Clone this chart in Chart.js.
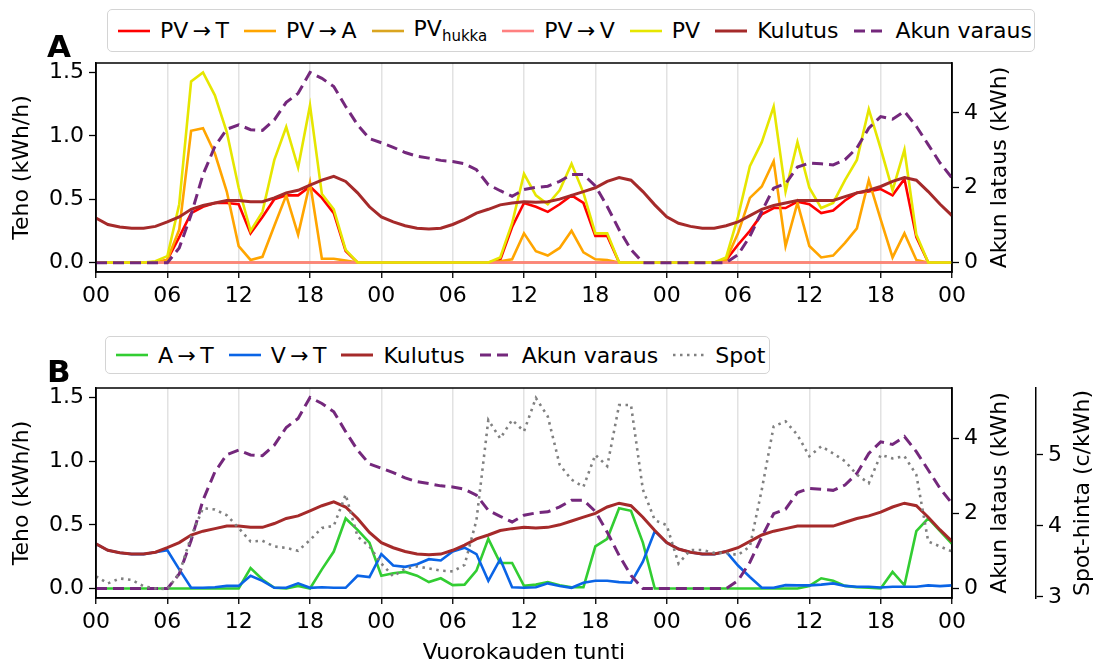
<!DOCTYPE html>
<html>
<head>
<meta charset="utf-8">
<script src="https://cdn.jsdelivr.net/npm/chart.js@4.4.1/dist/chart.umd.min.js"></script>
<style>
  body { margin: 0; background: #fff; font-family: 'DejaVu Sans', sans-serif; }
  #wrap { position: relative; width: 1103px; height: 666px; overflow: hidden; }
  canvas { position: absolute; left: 0; }
  .legend { position: absolute; display: flex; align-items: center; box-sizing: border-box;
            border: 1px solid #d4d4d4; border-radius: 5px; background: #fff;
            font-size: 22px; padding: 0 0 0 10px; white-space: nowrap; color: #000; }
  .item { display: flex; align-items: center; margin-right: 15px; }
  .item svg { margin-right: 10px; }
  .item sub { font-size: 15px; vertical-align: -5px; }
  .panel { position: absolute; left: 47px; font-weight: bold; font-size: 31px; line-height: 31px; }
</style>
</head>
<body>
<div id="wrap">
  <canvas id="chartA" width="1103" height="330" style="top:0"></canvas>
  <canvas id="chartB" width="1103" height="336" style="top:330px"></canvas>
  <div class="panel" style="top:31px">A</div>
  <div class="panel" style="top:356px">B</div>
  <div class="legend" id="legendA" style="left:107px; top:9px; width:928px; height:43px"></div>
  <div class="legend" id="legendB" style="left:105px; top:336px; width:665px; height:38px"></div>
</div>
<script>
// tunnit 0..72 (kolme vuorokautta)
const hours = Array.from({ length: 73 }, (_, i) => i);
const xTickValues = [0, 6, 12, 18, 24, 30, 36, 42, 48, 54, 60, 66, 72];
const xTickLabels = ['00', '06', '12', '18', '00', '06', '12', '18', '00', '06', '12', '18', '00'];

// A-paneeli (kWh/h)
const pvT = [
  0, 0, 0, 0, 0, 0, 0.02, 0.20, 0.39, 0.44, 0.47, 0.47,
  0.46, 0.23, 0.36, 0.50, 0.53, 0.53, 0.60, 0.51, 0.39, 0.09, 0, 0,
  0, 0, 0, 0, 0, 0, 0, 0, 0, 0, 0.02, 0.28,
  0.47, 0.44, 0.40, 0.46, 0.53, 0.47, 0.21, 0.21, 0, 0, 0, 0,
  0, 0, 0, 0, 0, 0.02, 0.14, 0.25, 0.38, 0.43, 0.43, 0.48,
  0.46, 0.39, 0.41, 0.49, 0.55, 0.56, 0.58, 0.53, 0.66, 0.20, 0, 0,
  0];
const pvA = [
  0, 0, 0, 0, 0, 0, 0.02, 0.26, 1.04, 1.06, 0.86, 0.56,
  0.13, 0.02, 0.045, 0.29, 0.53, 0.22, 0.63, 0.03, 0.03, 0.015, 0, 0,
  0, 0, 0, 0, 0, 0, 0, 0, 0, 0, 0.01, 0.025,
  0.23, 0.09, 0.055, 0.115, 0.25, 0.08, 0.025, 0.02, 0, 0, 0, 0,
  0, 0, 0, 0, 0, 0.02, 0.23, 0.51, 0.60, 0.80, 0.13, 0.47,
  0.13, 0.04, 0.055, 0.155, 0.27, 0.65, 0.34, 0.04, 0.23, 0.02, 0, 0,
  0];
const pvHukka = [
  0, 0, 0, 0, 0, 0, 0, 0, 0, 0, 0, 0,
  0, 0, 0, 0, 0, 0, 0, 0, 0, 0, 0, 0,
  0, 0, 0, 0, 0, 0, 0, 0, 0, 0, 0, 0,
  0, 0, 0, 0, 0, 0, 0, 0, 0, 0, 0, 0,
  0, 0, 0, 0, 0, 0, 0, 0, 0, 0, 0, 0,
  0, 0, 0, 0, 0, 0, 0, 0, 0, 0, 0, 0,
  0];
const pvV = [
  0, 0, 0, 0, 0, 0, 0, 0, 0, 0, 0, 0,
  0, 0, 0, 0, 0, 0, 0, 0, 0, 0, 0, 0,
  0, 0, 0, 0, 0, 0, 0, 0, 0, 0, 0, 0,
  0, 0, 0, 0, 0, 0, 0, 0, 0, 0, 0, 0,
  0, 0, 0, 0, 0, 0, 0, 0, 0, 0, 0, 0,
  0, 0, 0, 0, 0, 0, 0, 0, 0, 0, 0, 0,
  0];
const pv = [
  0, 0, 0, 0, 0, 0.01, 0.05, 0.46, 1.43, 1.50, 1.32, 1.03,
  0.59, 0.25, 0.40, 0.81, 1.07, 0.75, 1.24, 0.54, 0.42, 0.10, 0, 0,
  0, 0, 0, 0, 0, 0, 0, 0, 0, 0, 0.04, 0.31,
  0.70, 0.53, 0.46, 0.57, 0.78, 0.55, 0.23, 0.23, 0, 0, 0, 0,
  0, 0, 0, 0, 0, 0.04, 0.36, 0.76, 0.95, 1.23, 0.56, 0.95,
  0.59, 0.43, 0.47, 0.65, 0.81, 1.21, 0.90, 0.57, 0.89, 0.22, 0, 0,
  0];
const kulutus = [
  0.35, 0.30, 0.28, 0.27, 0.27, 0.285, 0.32, 0.36, 0.42, 0.45, 0.47, 0.49,
  0.49, 0.48, 0.48, 0.51, 0.55, 0.57, 0.61, 0.65, 0.68, 0.64, 0.55, 0.44,
  0.36, 0.32, 0.29, 0.27, 0.265, 0.27, 0.30, 0.34, 0.39, 0.42, 0.455, 0.47,
  0.48, 0.475, 0.48, 0.50, 0.53, 0.56, 0.59, 0.64, 0.67, 0.65, 0.56, 0.455,
  0.36, 0.31, 0.285, 0.27, 0.27, 0.29, 0.32, 0.37, 0.42, 0.45, 0.47, 0.49,
  0.49, 0.49, 0.49, 0.52, 0.55, 0.57, 0.60, 0.64, 0.67, 0.65, 0.56, 0.46,
  0.37];
// akun varaus (kWh)
const akku = [
  0, 0, 0, 0, 0, 0, 0, 0.39, 1.28, 2.35, 3.10, 3.56,
  3.68, 3.55, 3.53, 3.81, 4.28, 4.52, 5.08, 4.92, 4.70, 4.17, 3.68, 3.31,
  3.20, 3.08, 2.94, 2.84, 2.79, 2.73, 2.70, 2.64, 2.48, 2.08, 1.92, 1.77,
  1.95, 2.01, 2.04, 2.17, 2.35, 2.35, 2.05, 1.50, 0.88, 0.35, 0, 0,
  0, 0, 0, 0, 0, 0, 0.21, 0.70, 1.37, 1.99, 2.11, 2.55,
  2.66, 2.64, 2.61, 2.75, 3.06, 3.59, 3.90, 3.83, 4.04, 3.64, 3.15, 2.66,
  2.26];

// B-paneeli
const aT = [
  0, 0, 0, 0, 0, 0, 0, 0, 0, 0, 0, 0,
  0, 0.16, 0.07, 0.005, 0, 0.02, 0, 0.15, 0.29, 0.55, 0.46, 0.36,
  0.10, 0.12, 0.13, 0.10, 0.05, 0.08, 0.026, 0.03, 0.14, 0.39, 0.20, 0.20,
  0.02, 0.03, 0.05, 0.025, 0.01, 0.01, 0.33, 0.39, 0.63, 0.61, 0.36, 0,
  0, 0, 0, 0, 0, 0, 0, 0, 0, 0, 0, 0,
  0.02, 0.08, 0.06, 0.02, 0.01, 0.005, 0, 0.13, 0.025, 0.45, 0.55, 0.45,
  0.35];
const vT = [
  0.35, 0.30, 0.28, 0.27, 0.27, 0.285, 0.30, 0.15, 0.005, 0.005, 0.01, 0.02,
  0.02, 0.10, 0.06, 0.005, 0.005, 0.04, 0.005, 0.01, 0.005, 0.005, 0.10, 0.09,
  0.27, 0.18, 0.17, 0.19, 0.23, 0.22, 0.29, 0.32, 0.27, 0.06, 0.23, 0.01,
  0.005, 0.01, 0.04, 0.02, 0.005, 0.045, 0.06, 0.06, 0.05, 0.045, 0.21, 0.45,
  0.36, 0.31, 0.285, 0.27, 0.27, 0.29, 0.18, 0.09, 0.005, 0.005, 0.026, 0.024,
  0.024, 0.03, 0.04, 0.02, 0.013, 0.013, 0.008, 0.013, 0.013, 0.013, 0.024, 0.018,
  0.024];
// spot-hinta (c/kWh)
const spot = [
  3.29, 3.19, 3.26, 3.24, 3.15, 3.12, 3.11, 3.33, 3.85, 4.25, 4.23, 4.15,
  3.97, 3.78, 3.79, 3.71, 3.69, 3.65, 3.80, 3.97, 4.00, 4.44, 3.85, 3.71,
  3.47, 3.29, 3.40, 3.43, 3.40, 3.37, 3.36, 3.45, 4.08, 5.49, 5.23, 5.49,
  5.33, 5.80, 5.54, 4.86, 4.65, 4.55, 5.00, 4.84, 5.70, 5.70, 4.51, 4.08,
  4.01, 3.47, 3.66, 3.66, 3.62, 3.62, 3.59, 3.71, 4.51, 5.40, 5.47, 5.28,
  4.98, 5.12, 5.02, 4.91, 4.72, 4.60, 5.00, 4.95, 4.98, 4.72, 3.78, 3.71,
  3.64];

Chart.defaults.font.family = "'DejaVu Sans', sans-serif";
Chart.defaults.font.size = 22;
Chart.defaults.color = '#000';

function line(label, data, color, width, axis, dash) {
  return {
    label: label, data: data, borderColor: color, backgroundColor: color,
    borderWidth: width, borderDash: dash || [], yAxisID: axis,
    pointRadius: 0, tension: 0, fill: false
  };
}

function fixedTicks(values) {
  return s => { s.ticks = values.map(v => ({ value: v })); };
}

function xScale(height, title) {
  return {
    type: 'linear', min: 0, max: 72,
    afterBuildTicks: fixedTicks(xTickValues),
    afterFit: s => { s.height = height; },
    ticks: { callback: v => xTickLabels[xTickValues.indexOf(v)], maxRotation: 0, autoSkip: false, padding: 5 },
    grid: { color: '#e2e2e2', lineWidth: 1.5, tickColor: '#000', tickLength: 6, tickWidth: 1.3 },
    border: { color: '#000', width: 1.5 },
    title: { display: !!title, text: title || '', padding: { top: 0, bottom: 0 } }
  };
}

function sideScale(pos, min, max, ticks, width, weight, fmt) {
  return {
    position: pos, min: min, max: max, weight: weight,
    afterBuildTicks: fixedTicks(ticks),
    afterFit: s => { s.width = width; },
    ticks: { callback: fmt, padding: 5 },
    grid: { drawOnChartArea: false, tickColor: '#000', tickLength: 7, tickWidth: 1.3 },
    border: { color: '#000', width: 1.5 }
  };
}

// kehys + oikean puolen akseliotsikot alhaalta ylös
const framePlugin = {
  id: 'frame',
  afterDraw(chart, args, opts) {
    const { ctx, chartArea: a } = chart;
    ctx.save();
    ctx.strokeStyle = '#000';
    ctx.lineWidth = 1.5;
    ctx.strokeRect(a.left, a.top, a.right - a.left, a.bottom - a.top);
    ctx.font = "22px 'DejaVu Sans'";
    ctx.fillStyle = '#000';
    ctx.textAlign = 'center';
    ctx.textBaseline = 'middle';
    (opts.titles || []).forEach(t => {
      const s = chart.scales[t.scale];
      ctx.save();
      ctx.translate(s.left + t.offset, (a.top + a.bottom) / 2);
      ctx.rotate(-Math.PI / 2);
      ctx.fillText(t.text, 0, 0);
      ctx.restore();
    });
    ctx.restore();
  }
};

function withOrder(datasets) {
  datasets.forEach((d, i) => { d.order = datasets.length - i; });
  return datasets;
}

const dataA = withOrder([
  line('PV\u2009\u2192\u2009T', pvT, '#ff0000', 2.6, 'y'),
  line('PV\u2009\u2192\u2009A', pvA, '#ffa500', 2.6, 'y'),
  line('PV_{hukka}', pvHukka, '#daa520', 2.6, 'y'),
  line('PV\u2009\u2192\u2009V', pvV, '#ff8080', 2.6, 'y'),
  line('PV', pv, '#e6e600', 2.6, 'y'),
  line('Kulutus', kulutus, '#a52a2a', 3, 'y'),
  line('Akun varaus', akku, '#74287c', 3, 'y1', [11, 6])
]);

const dataB = withOrder([
  line('A\u2009\u2192\u2009T', aT, '#32cd32', 2.6, 'y'),
  line('V\u2009\u2192\u2009T', vT, '#0a64e6', 2.6, 'y'),
  line('Kulutus', kulutus, '#a52a2a', 3, 'y'),
  line('Akun varaus', akku, '#74287c', 3, 'y1', [11, 6]),
  line('Spot', spot, '#808080', 2.6, 'y2', [2.5, 4.5])
]);

const chartA = new Chart(document.getElementById('chartA'), {
  type: 'line',
  data: { labels: hours, datasets: dataA },
  options: {
    responsive: false, animation: false,
    layout: { padding: { top: 63, left: 0, right: 0, bottom: 0 } },
    plugins: {
      legend: { display: false }, tooltip: { enabled: false },
      frame: { titles: [{ scale: 'y1', text: 'Akun lataus (kWh)', offset: 48 }] }
    },
    scales: {
      x: xScale(58),
      y: Object.assign(sideScale('left', -0.075, 1.575, [0, 0.5, 1, 1.5], 96, 0, v => v.toFixed(1)),
        { title: { display: true, text: 'Teho (kWh/h)', padding: { top: 9, bottom: 0 } } }),
      y1: sideScale('right', -0.25, 5.33, [0, 2, 4], 151, 0, v => String(v))
    }
  },
  plugins: [framePlugin]
});

const chartB = new Chart(document.getElementById('chartB'), {
  type: 'line',
  data: { labels: hours, datasets: dataB },
  options: {
    responsive: false, animation: false,
    layout: { padding: { top: 58, left: 0, right: 0, bottom: 0 } },
    plugins: {
      legend: { display: false }, tooltip: { enabled: false },
      frame: { titles: [
        { scale: 'y1', text: 'Akun lataus (kWh)', offset: 48 },
        { scale: 'y2', text: 'Spot-hinta (c/kWh)', offset: 47 }
      ] }
    },
    scales: {
      x: xScale(68, 'Vuorokauden tunti'),
      y: Object.assign(sideScale('left', -0.075, 1.575, [0, 0.5, 1, 1.5], 96, 0, v => v.toFixed(1)),
        { title: { display: true, text: 'Teho (kWh/h)', padding: { top: 9, bottom: 0 } } }),
      y1: sideScale('right', -0.25, 5.33, [0, 2, 4], 84, 0, v => String(v)),
      y2: sideScale('right', 2.985, 5.94, [3, 4, 5], 67, 1, v => String(v))
    }
  },
  plugins: [framePlugin]
});

// HTML-selite datasarjoista (alaindeksi PV_{hukka})
function buildLegend(chart, el) {
  chart.data.datasets.forEach(d => {
    const item = document.createElement('div');
    item.className = 'item';
    const dash = d.borderDash.length ? ' stroke-dasharray="' + d.borderDash.join(' ') + '"' : '';
    item.innerHTML = '<svg width="32" height="10"><line x1="0" y1="5" x2="32" y2="5" stroke="' +
      d.borderColor + '" stroke-width="' + d.borderWidth + '"' + dash + '/></svg>' +
      '<span>' + d.label.replace(/_\{(.*?)\}/, '<sub>$1</sub>') + '</span>';
    el.appendChild(item);
  });
}
buildLegend(chartA, document.getElementById('legendA'));
buildLegend(chartB, document.getElementById('legendB'));
</script>
</body>
</html>
